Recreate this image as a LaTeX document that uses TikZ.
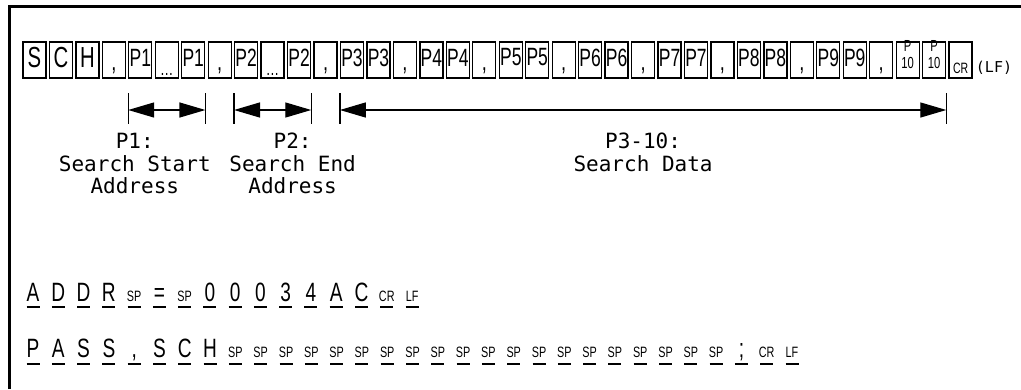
\documentclass[tikz,border=0pt]{standalone}
\usepackage{fontspec}
\newfontfamily\boxfont[FakeStretch=0.7]{Liberation Sans}
\newfontfamily\labfont{DejaVu Sans Mono}
\newfontfamily\rowfont[FakeStretch=0.72]{Liberation Sans}
\usetikzlibrary{arrows.meta,positioning,calc}
\newcommand{\comma}{,}
\newcommand{\pten}{P\\10}
\tikzset{
  frame/.style={line width=3pt},
  cbox/.style={draw, line width=1.3pt, minimum width=23pt, minimum height=36pt, inner sep=0pt},
  big/.style={inner sep=0pt, yshift=2.5pt, font=\boxfont\fontsize{29}{29}\selectfont},
  pa/.style={inner sep=0pt, yshift=2.5pt, font=\boxfont\fontsize{25}{25}\selectfont},
  cma/.style={inner sep=0pt, anchor=base, yshift=-10pt, font=\boxfont\fontsize{26}{26}\selectfont},
  dts/.style={inner sep=0pt, anchor=base, yshift=-15pt, font=\boxfont\fontsize{19}{19}\selectfont},
  ten/.style={inner sep=0pt, align=center, anchor=south, yshift=-9pt, font=\boxfont\fontsize{16}{17}\selectfont},
  cr/.style={inner sep=0pt, anchor=base, yshift=-13pt, font=\boxfont\fontsize{15}{15}\selectfont},
  lf/.style={inner sep=0pt, font=\labfont\fontsize{15}{15}\selectfont},
  tick/.style={line width=1.3pt},
  dim/.style={{Triangle[length=26pt,width=15pt]}-{Triangle[length=26pt,width=15pt]}, line width=1.3pt},
  lab/.style={align=center, inner sep=0pt, font=\labfont\fontsize{21}{22.5}\selectfont},
  ch/.style={inner sep=0pt, anchor=base, font=\rowfont\fontsize{26.5}{26.5}\selectfont},
  sm/.style={inner sep=0pt, anchor=base, font=\rowfont\fontsize{15}{15}\selectfont},
  uline/.style={line width=2pt},
}
\begin{document}
\begin{tikzpicture}[x=1pt, y=1pt]
  \useasboundingbox (0,0) rectangle (1021,-389);

  % frame
  \draw[frame] (9.5,-389) -- (9.5,-6.5) -- (1021,-6.5);

  % command boxes
  \foreach \txt/\kind [count=\i] in {S/big, C/big, H/big, \comma/cma,
      P1/pa, \ldots/dts, P1/pa, \comma/cma, P2/pa, \ldots/dts, P2/pa, \comma/cma,
      P3/pa, P3/pa, \comma/cma, P4/pa, P4/pa, \comma/cma, P5/pa, P5/pa, \comma/cma,
      P6/pa, P6/pa, \comma/cma, P7/pa, P7/pa, \comma/cma, P8/pa, P8/pa, \comma/cma,
      P9/pa, P9/pa, \comma/cma, \pten/ten, \pten/ten, CR/cr}
  {
    \node[cbox] (b\i) at ({34.5+26.46*(\i-1)}, -60) {};
    \node[\kind] (t\i) at (b\i) {\txt};
  }
  \node[lf, anchor=base west] (lf) at ([xshift=3pt, yshift=6pt]b36.south east) {(LF)};

  % parameter ranges
  \coordinate (a1l) at ([yshift=-50pt]b5.west);
  \coordinate (a1r) at ([yshift=-50pt]b7.east);
  \coordinate (a2l) at ([yshift=-50pt]b9.west);
  \coordinate (a2r) at ([yshift=-50pt]b11.east);
  \coordinate (a3l) at ([yshift=-50pt]b13.west);
  \coordinate (a3r) at ([yshift=-50pt]b35.east);
  \foreach \e in {a1l,a1r,a2l,a2r,a3l,a3r}
    \draw[tick] ([yshift=17pt]\e) -- ([yshift=-14pt]\e);
  \draw[dim] (a1l) -- (a1r);
  \draw[dim] (a2l) -- (a2r);
  \draw[dim] (a3l) -- (a3r);

  \coordinate (m1) at ($(a1l)!0.5!(a1r)+(-32pt,0)$);
  \coordinate (m2) at ($(a2l)!0.5!(a2r)+(20pt,0)$);
  \coordinate (m3) at ($(a3l)!0.5!(a3r)$);
  \node[lab, below=23pt of m1] (l1) {P1:\\Search Start\\Address};
  \node[lab, below=23pt of m2] (l2) {P2:\\Search End\\Address};
  \node[lab, below=23pt of m3] (l3) {P3-10:\\Search Data};

  % response lines
  \foreach \c/\k [count=\i] in {A/ch, D/ch, D/ch, R/ch, SP/sm, =/ch, SP/sm,
      0/ch, 0/ch, 0/ch, 3/ch, 4/ch, A/ch, C/ch, CR/sm, LF/sm}
  {
    \node[\k] (r\i) at ({33+25.27*(\i-1)}, -301) {\c};
    \draw[uline] ([xshift=-6.5pt, yshift=-6pt]r\i.base) -- ([xshift=6.5pt, yshift=-6pt]r\i.base);
  }
  \foreach \c/\k [count=\i] in {P/ch, A/ch, S/ch, S/ch, \comma/ch, S/ch, C/ch, H/ch}
  {
    \node[\k] (q\i) at ({33+25.3*(\i-1)}, -357) {\c};
    \draw[uline] ([xshift=-6.5pt, yshift=-7pt]q\i.base) -- ([xshift=6.5pt, yshift=-7pt]q\i.base);
  }
  \foreach \i in {9,...,28}
  {
    \node[sm] (q\i) at ({33+25.3*(\i-1)}, -357) {SP};
    \draw[uline] ([xshift=-6.5pt, yshift=-7pt]q\i.base) -- ([xshift=6.5pt, yshift=-7pt]q\i.base);
  }
  \foreach \c/\k [count=\i from 29] in {;/ch, CR/sm, LF/sm}
  {
    \node[\k] (q\i) at ({33+25.3*(\i-1)}, -357) {\c};
    \draw[uline] ([xshift=-6.5pt, yshift=-7pt]q\i.base) -- ([xshift=6.5pt, yshift=-7pt]q\i.base);
  }
\end{tikzpicture}
\end{document}
